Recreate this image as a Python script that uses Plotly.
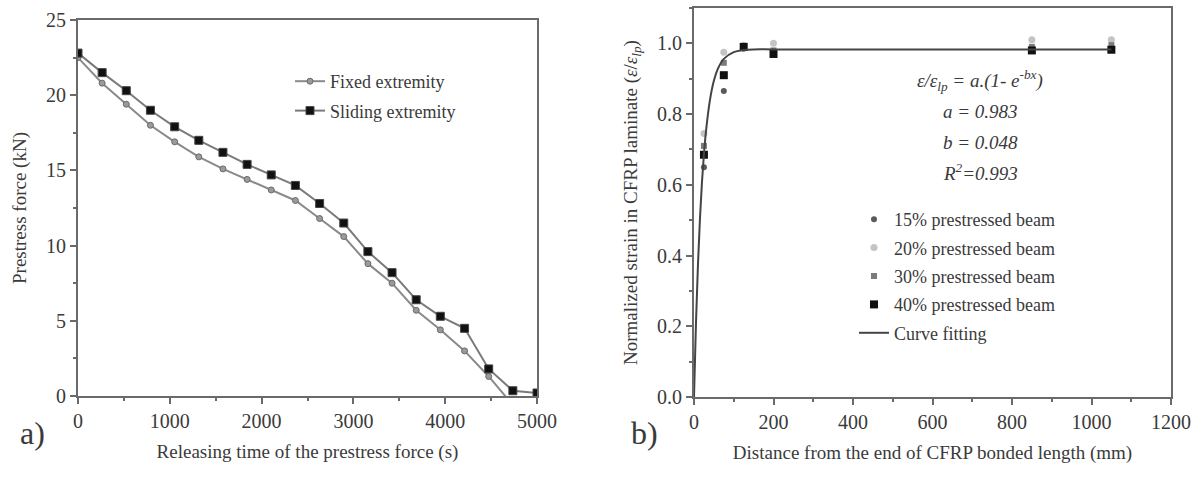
import plotly.graph_objects as go

# ---------------- data: panel a) ----------------
release_time_s = [0, 263, 526, 789, 1053, 1316, 1579, 1842, 2105, 2368,
                  2632, 2895, 3158, 3421, 3684, 3947, 4211, 4474, 4737, 5000]
fixed_kN = [22.5, 20.8, 19.4, 18.0, 16.9, 15.9, 15.1, 14.4, 13.7, 13.0,
            11.8, 10.6, 8.8, 7.5, 5.7, 4.4, 3.0, 1.3, -0.6, -0.6]
sliding_kN = [22.8, 21.5, 20.3, 19.0, 17.9, 17.0, 16.2, 15.4, 14.7, 14.0,
              12.8, 11.5, 9.6, 8.2, 6.4, 5.3, 4.5, 1.8, 0.35, 0.2]

# ---------------- data: panel b) ----------------
distance_mm = [25, 75, 125, 200, 850, 1050]
beam15 = [0.65, 0.865, 0.985, 0.975, 0.985, 0.985]
beam20 = [0.745, 0.975, 0.995, 1.0, 1.01, 1.01]
beam30 = [0.71, 0.945, 0.99, 0.98, 0.99, 0.995]
beam40 = [0.685, 0.91, 0.99, 0.97, 0.98, 0.982]
fit_x = [0, 5, 10, 15, 20, 25, 30, 40, 50, 60, 75, 100, 125, 150, 200, 400, 600, 850, 1050]
fit_y = [0.0, 0.21, 0.375, 0.504, 0.607, 0.687, 0.75, 0.839, 0.894, 0.928,
         0.956, 0.975, 0.981, 0.983, 0.983, 0.983, 0.983, 0.983, 0.983]

FONT = "Liberation Serif"
TXT = "#3a3a3a"
AX = "#6a6a6a"

fig = go.Figure()

fig.add_trace(go.Scatter(
    x=release_time_s, y=fixed_kN, name="Fixed extremity", mode="lines+markers",
    line=dict(color="#8a8a8a", width=2),
    marker=dict(symbol="circle", size=6, color="#9a9a9a", line=dict(color="#6a6a6a", width=1)),
    xaxis="x", yaxis="y", legend="legend", legendgroup="f"))
fig.add_trace(go.Scatter(
    x=release_time_s, y=sliding_kN, name="Sliding extremity", mode="lines+markers",
    line=dict(color="#7a7a7a", width=2),
    marker=dict(symbol="square", size=8, color="#111111", line=dict(color="#444444", width=1)),
    xaxis="x", yaxis="y", legend="legend", legendgroup="s"))

fig.add_trace(go.Scatter(
    x=distance_mm, y=beam15, name="15% prestressed beam", mode="markers",
    marker=dict(symbol="circle", size=6, color="#5a5a5a"),
    xaxis="x2", yaxis="y2", legend="legend2", legendgroup="a"))
fig.add_trace(go.Scatter(
    x=distance_mm, y=beam20, name="20% prestressed beam", mode="markers",
    marker=dict(symbol="circle", size=7, color="#c4c4c4"),
    xaxis="x2", yaxis="y2", legend="legend2", legendgroup="b"))
fig.add_trace(go.Scatter(
    x=distance_mm, y=beam30, name="30% prestressed beam", mode="markers",
    marker=dict(symbol="square", size=6, color="#7c7c7c"),
    xaxis="x2", yaxis="y2", legend="legend2", legendgroup="c"))
fig.add_trace(go.Scatter(
    x=distance_mm, y=beam40, name="40% prestressed beam", mode="markers",
    marker=dict(symbol="square", size=8, color="#111111"),
    xaxis="x2", yaxis="y2", legend="legend2", legendgroup="d"))
fig.add_trace(go.Scatter(
    x=fit_x, y=fit_y, name="Curve fitting", mode="lines",
    line=dict(color="#444444", width=2, shape="spline"),
    xaxis="x2", yaxis="y2", legend="legend2", legendgroup="e"))

W, H = 1203, 477

def px_x(p):
    return p / W

def px_y(p):
    return 1 - p / H

axis_common = dict(
    showline=True, linecolor=AX, linewidth=2, mirror=True,
    ticks="outside", ticklen=6, tickwidth=1.5, tickcolor=AX,
    showgrid=False, zeroline=False, automargin=False,
    tickfont=dict(family=FONT, size=20, color=TXT),
    title_font=dict(family=FONT, size=19, color=TXT),
)

fig.update_layout(
    width=W, height=H, template="none",
    paper_bgcolor="white", plot_bgcolor="white",
    margin=dict(l=0, r=0, t=0, b=0),
    font=dict(family=FONT, color=TXT),
    xaxis=dict(axis_common, domain=[px_x(78), px_x(537)], range=[0, 5000], dtick=1000,
               anchor="y", minor=dict(dtick=500, ticks="outside", ticklen=3, tickcolor=AX),
               title=dict(text="Releasing time of the prestress force (s)", standoff=14)),
    yaxis=dict(axis_common, domain=[px_y(396), px_y(20)], range=[0, 25], dtick=5,
               anchor="x", minor=dict(dtick=2.5, ticks="outside", ticklen=3, tickcolor=AX),
               title=dict(text="Prestress force (kN)", standoff=14)),
    xaxis2=dict(axis_common, domain=[px_x(694), px_x(1171)], range=[0, 1200], dtick=200,
                anchor="y2", minor=dict(dtick=100, ticks="outside", ticklen=3, tickcolor=AX),
                title=dict(text="Distance from the end of CFRP bonded length (mm)", standoff=14)),
    yaxis2=dict(axis_common, domain=[px_y(397), px_y(8)], range=[0, 1.1], dtick=0.2,
                tickformat=".1f", anchor="x2",
                minor=dict(dtick=0.1, ticks="outside", ticklen=3, tickcolor=AX),
                title=dict(text="Normalized strain in CFRP laminate (<i>ε</i>/<i>ε</i><sub><i>lp</i></sub>)",
                           standoff=14)),
    legend=dict(x=px_x(290), y=px_y(63), xanchor="left", yanchor="top",
                bgcolor="rgba(0,0,0,0)", tracegroupgap=3,
                font=dict(family=FONT, size=18, color=TXT)),
    legend2=dict(x=px_x(854), y=px_y(201), xanchor="left", yanchor="top",
                 bgcolor="rgba(0,0,0,0)", tracegroupgap=2,
                 font=dict(family=FONT, size=18, color=TXT)),
    showlegend=True,
)

eq_lines = [
    ("<i>ε/ε<sub>lp</sub> = a.(1- e<sup>-bx</sup>)</i>", 80),
    ("<i>a = 0.983</i>", 112),
    ("<i>b = 0.048</i>", 142),
    ("<i>R<sup>2</sup>=0.993</i>", 172),
]
for txt, yp in eq_lines:
    fig.add_annotation(text=txt, x=px_x(980), y=px_y(yp), xref="paper", yref="paper",
                       showarrow=False, xanchor="center", yanchor="middle",
                       font=dict(family=FONT, size=19, color=TXT))

fig.add_annotation(text="a)", x=px_x(32), y=px_y(433), xref="paper", yref="paper",
                   showarrow=False, xanchor="center", yanchor="middle",
                   font=dict(family=FONT, size=32, color=TXT))
fig.add_annotation(text="b)", x=px_x(644), y=px_y(433), xref="paper", yref="paper",
                   showarrow=False, xanchor="center", yanchor="middle",
                   font=dict(family=FONT, size=32, color=TXT))

fig.write_html("out.html")
